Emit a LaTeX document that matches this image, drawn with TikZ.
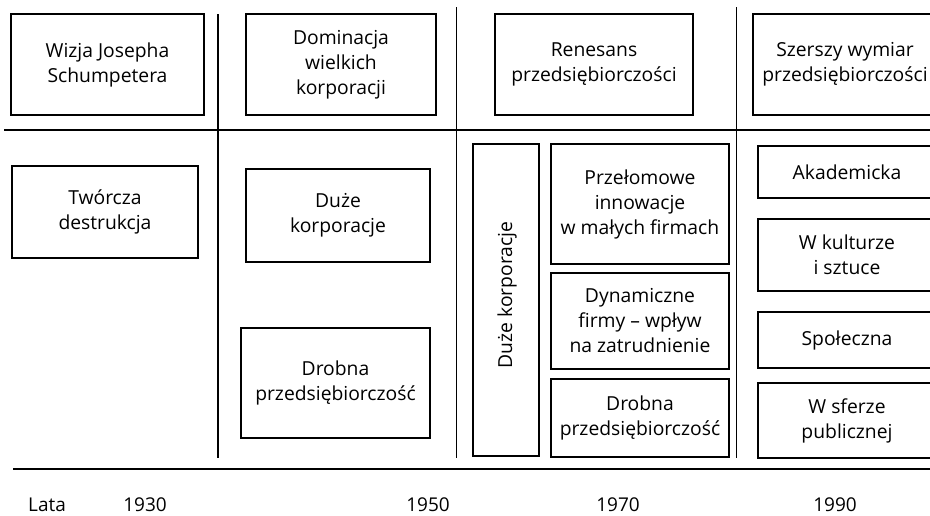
\documentclass[tikz,border=0pt]{standalone}
\usepackage{fontspec}
\setmainfont{Open Sans}
\begin{document}
\begin{tikzpicture}[x=1pt,y=-1pt,
  box/.style={draw, line width=1.3pt, align=center, inner sep=0pt,
    font=\fontsize{19.3}{25}\selectfont},
  boxtext/.style={inner sep=0pt, font=\fontsize{19.3}{25}\selectfont},
  rule/.style={line width=1.3pt},
  yearlabel/.style={font=\fontsize{19}{22}\selectfont, inner sep=0pt, anchor=base}]
\useasboundingbox (0,0) rectangle (930,515);
\clip (0,0) rectangle (930,515);

% era headings
\node[box, minimum width=193, minimum height=101] (wizja) at (107.5,64.5) {Wizja Josepha\\Schumpetera};
\node[box, minimum width=190, minimum height=101] (dominacja) at (341,64.5) {Dominacja\\wielkich\\korporacji};
\node[box, minimum width=198, minimum height=101] (renesans) at (594,64.5) {Renesans\\przedsiębiorczości};
\node[box, minimum width=184, minimum height=101] (szerszy) at (845,64.5) {Szerszy wymiar\\przedsiębiorczości};

% grid lines
\coordinate (hl) at (4,130);
\coordinate (hr) at (930,130);
\draw[rule] (hl) -- (hr);
\coordinate (v1t) at (218,14);  \coordinate (v1b) at (218,458);
\coordinate (v2t) at (456.5,7); \coordinate (v2b) at (456.5,458);
\coordinate (v3t) at (736.5,7); \coordinate (v3b) at (736.5,458);
\draw[rule] (v1t) -- (v1b);
\draw[rule] (v2t) -- (v2b);
\draw[rule] (v3t) -- (v3b);
\coordinate (bl) at (13,469);
\coordinate (br) at (930,469);
\draw[rule] (bl) -- (br);

% 1930
\node[box, minimum width=186, minimum height=92] (tworcza) at (105,212) {Twórcza\\destrukcja};

% 1950
\node[box, minimum width=184, minimum height=93] (duze1) at (338,215.5) {Duże\\korporacje};
\node[box, minimum width=189, minimum height=110] (drobna1) at (335.5,383) {Drobna\\przedsiębiorczość};

% 1970
\node[box, minimum width=66, minimum height=312] (duzeV) at (506,300) {};
\node[boxtext, rotate=90] (duzeVtext) at (507,295) {Duże korporacje};
\node[box, minimum width=178, minimum height=120] (przelom) at (640,204) {Przełomowe\\innowacje\\w małych firmach};
\node[box, minimum width=178, minimum height=96] (dynam) at (640,321) {Dynamiczne\\firmy – wpływ\\na zatrudnienie};
\node[box, minimum width=178, minimum height=78] (drobna2) at (640,418) {Drobna\\przedsiębiorczość};

% 1990
\node[box, minimum width=178, minimum height=52] (akad) at (847,172) {Akademicka};
\node[box, minimum width=178, minimum height=72] (kultura) at (847,255) {W kulturze\\i sztuce};
\node[box, minimum width=178, minimum height=56] (spol) at (847,340) {Społeczna};
\node[box, minimum width=178, minimum height=75] (sfera) at (847,420.5) {W sferze\\publicznej};

% time axis labels
\node[yearlabel] (lata) at (47,511) {Lata};
\node[yearlabel] (y1930) at (145,511) {1930};
\node[yearlabel] (y1950) at (428,511) {1950};
\node[yearlabel] (y1970) at (618,511) {1970};
\node[yearlabel] (y1990) at (835,511) {1990};
\end{tikzpicture}
\end{document}
